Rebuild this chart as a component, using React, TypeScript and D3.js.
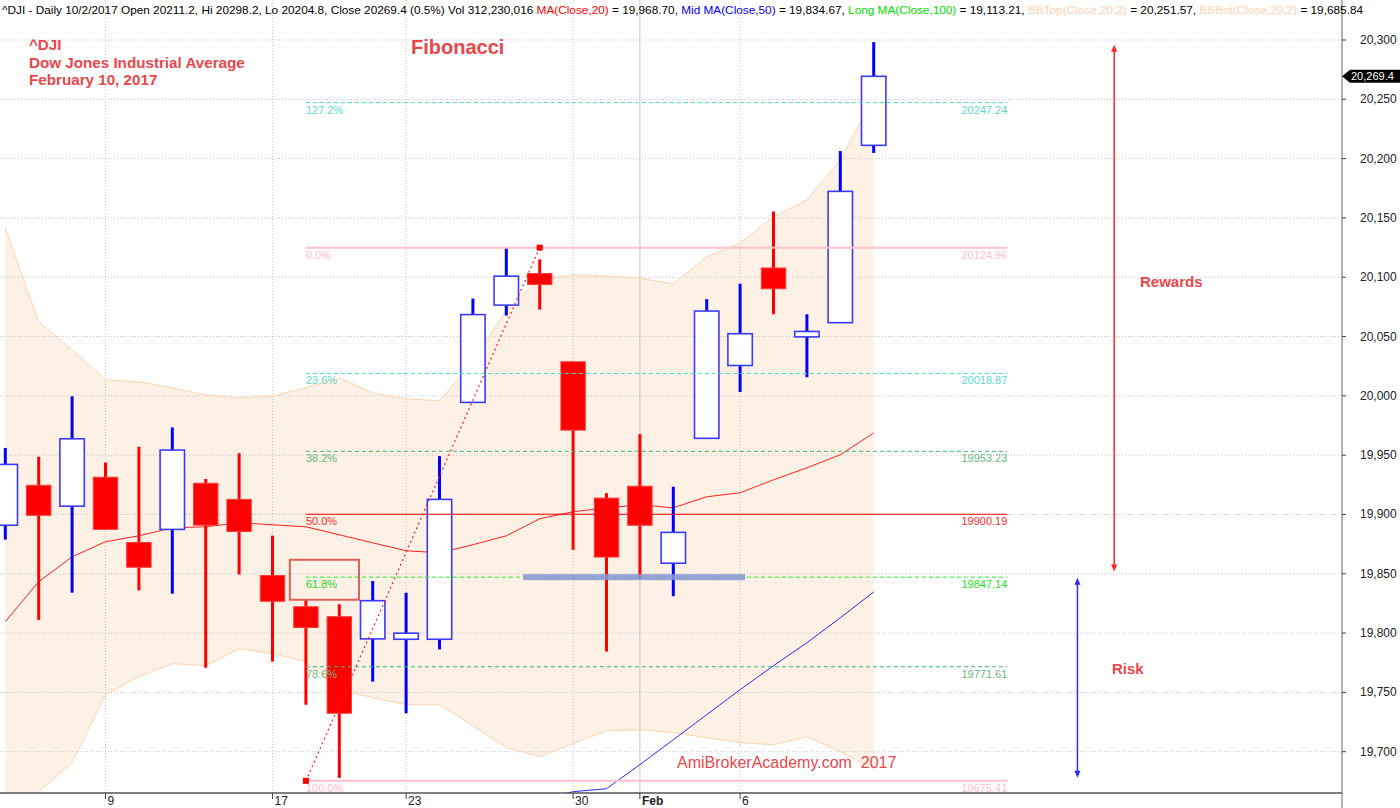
import React from 'react';
import * as d3 from 'd3';

// ---------- data ----------
const dates = ["Jan 4","Jan 5","Jan 6","Jan 9","Jan 10","Jan 11","Jan 12","Jan 13","Jan 17","Jan 18","Jan 19","Jan 20","Jan 23","Jan 24","Jan 25","Jan 26","Jan 27","Jan 30","Jan 31","Feb 1","Feb 2","Feb 3","Feb 6","Feb 7","Feb 8","Feb 9","Feb 10"];
const opens = [19890.9,19924.6,19907.0,19931.4,19876.4,19887.4,19926.3,19912.7,19848.5,19822.2,19813.8,19795.1,19794.8,19794.8,19994.5,20076.5,20103.1,20028.7,19913.8,19923.8,19858.9,19964.2,20025.6,20107.8,20049.7,20061.7,20211.2];
const highs = [19956.1,19948.6,19999.6,19943.8,19957.1,19973.4,19929.9,19951.6,19882.1,19828.0,19824.3,19843.9,19834.0,19949.2,20082.0,20125.6,20115.0,20028.7,19918.0,19967.7,19923.4,20081.5,20094.5,20155.4,20068.8,20206.4,20298.2];
const lows = [19878.8,19811.1,19834.1,19887.4,19836.0,19833.2,19770.8,19849.4,19775.9,19739.6,19677.9,19759.1,19732.4,19786.2,19994.5,20067.7,20072.7,19870.2,19784.4,19845.7,19831.1,19964.2,20003.3,20068.8,20015.7,20061.7,20204.8];
const closes = [19942.2,19899.3,19963.8,19887.4,19855.5,19954.3,19891.0,19885.7,19826.8,19804.7,19732.4,19827.3,19799.9,19912.7,20068.5,20100.9,20093.8,19971.1,19864.1,19890.9,19884.9,20071.5,20052.4,20090.3,20054.3,20172.4,20269.4];

const bbTop = [20141.6,20062.4,20038.8,20013.5,20011.8,20006.8,20000.8,19998.3,19999.9,20006.8,20015.2,20002.5,19997.5,19995.8,20028.7,20072.5,20097.8,20102.0,20101.1,20099.4,20094.4,20117.1,20128.9,20150.8,20165.2,20198.9,20251.6];
const bbBot = [19634.3,19666.3,19690.7,19748.0,19763.2,19774.2,19772.5,19786.8,19782.6,19775.9,19752.3,19745.5,19739.6,19739.6,19721.9,19703.4,19695.8,19706.8,19717.6,19718.5,19716.0,19711.8,19707.6,19705.9,19712.6,19700.0,19685.8];
const ma20 = [19809.6,19843.3,19864.3,19877.0,19882.0,19888.8,19889.6,19893.0,19891.3,19889.6,19882.9,19876.1,19869.4,19867.7,19874.5,19882.0,19896.4,19902.3,19905.6,19908.1,19905.6,19914.9,19918.3,19929.2,19939.3,19950.3,19968.7];
const ma50: (number | null)[] = [null,null,null,null,null,null,null,null,null,null,null,null,null,null,null,19640.0,19659.6,19666.3,19668.8,19689.1,19710.1,19731.2,19752.3,19772.5,19791.9,19812.9,19834.7];

const yTicks = [19700,19750,19800,19850,19900,19950,20000,20050,20100,20150,20200,20250,20300];
const xTickIdx = [3,8,12,17,19,22];
const xTickLabels = ["9","17","23","30","Feb","6"];

const fibPct = ["127.2%","0.0%","23.6%","38.2%","50.0%","61.8%","78.6%","100.0%"];
const fibVals = [20247.24,20124.96,20018.87,19953.23,19900.19,19847.14,19771.61,19675.41];
const fibStartIdx = 9;
const fibEndIdx = 30;
const fibTrend = [{ i: 9, v: 19675.41 }, { i: 16, v: 20124.96 }];

// ---------- layout ----------
const W = 1400, H = 808;
const AXIS_X = 1342, AXIS_Y = 793;
const x = d3.scaleLinear().domain([0, 40]).range([5.3, 5.3 + 40 * 33.4]);
const y = d3.scaleLinear().domain([19700, 20300]).range([751.7, 40]);
const FONT = "'Liberation Sans', Arial, sans-serif";

const fibStyle = [
  { stroke: '#40e0d0', dash: '4,3', w: 1, label: '#5cd8cb' },
  { stroke: '#ffc0cb', dash: null, w: 2, label: '#ffc0cb' },
  { stroke: '#40e0d0', dash: '4,3', w: 1, label: '#5cd8cb' },
  { stroke: '#3cb371', dash: '4,3', w: 1, label: '#6cb884' },
  { stroke: '#ff0000', dash: null, w: 1, label: '#ff2a2a' },
  { stroke: '#22ee22', dash: '4,3', w: 1, label: '#22dd22' },
  { stroke: '#3cb371', dash: '4,3', w: 1, label: '#6cb884' },
  { stroke: '#ffc0cb', dash: null, w: 2, label: '#ffc0cb' },
];

export default function App() {
  React.useEffect(() => { document.body.style.margin = '0'; }, []);
  const idx = d3.range(dates.length);

  const area = d3.area<number>()
    .x(i => x(i)).y0(i => y(bbBot[i])).y1(i => y(bbTop[i]));
  const topLine = d3.line<number>().x(i => x(i)).y(i => y(bbTop[i]));
  const botLine = d3.line<number>().x(i => x(i)).y(i => y(bbBot[i]));
  const ma20Line = d3.line<number>().x(i => x(i)).y(i => y(ma20[i]));
  const ma50Line = d3.line<number>().defined(i => ma50[i] != null).x(i => x(i)).y(i => y(ma50[i] as number));

  const bw = 24.4;
  const last = closes[closes.length - 1];
  const tagY = y(last);

  const arrow = (xx: number, y1: number, y2: number, color: string) => (
    <g>
      <line x1={xx} x2={xx} y1={y1 + 4} y2={y2 - 4} stroke={color} strokeWidth={1.5} />
      <polygon points={`${xx},${y1} ${xx - 3},${y1 + 7} ${xx + 3},${y1 + 7}`} fill={color} />
      <polygon points={`${xx},${y2} ${xx - 3},${y2 - 7} ${xx + 3},${y2 - 7}`} fill={color} />
    </g>
  );

  return (
    <svg width={W} height={H} style={{ position: 'absolute', left: 0, top: 0, display: 'block', background: '#fff' }} fontFamily={FONT}>
      <defs>
        <clipPath id="plot"><rect x={0} y={0} width={AXIS_X} height={AXIS_Y} /></clipPath>
      </defs>
      <g clipPath="url(#plot)">
        <path d={area(idx) || ''} fill="#fdf0e4" />
        {yTicks.map(t => (
          <line key={t} x1={0} x2={AXIS_X} y1={y(t)} y2={y(t)} stroke="#c4c4c4" strokeDasharray="1,2" />
        ))}
        {xTickIdx.map((t, k) => (
          <line key={t} x1={x(t)} x2={x(t)} y1={0} y2={AXIS_Y} stroke="#c4c4c4" strokeDasharray={xTickLabels[k] === 'Feb' ? undefined : '1,2'} />
        ))}
        <path d={topLine(idx) || ''} fill="none" stroke="#fcd6b0" strokeWidth={1} />
        <path d={botLine(idx) || ''} fill="none" stroke="#fcd6b0" strokeWidth={1} />
        <path d={ma20Line(idx) || ''} fill="none" stroke="#ff2020" strokeWidth={1} />
        <path d={ma50Line(idx) || ''} fill="none" stroke="#2a2aff" strokeWidth={1} />
        {idx.map(i => {
          const up = closes[i] >= opens[i];
          const col = up ? '#0000ff' : '#ff0000';
          const top = y(Math.max(opens[i], closes[i]));
          const bot = y(Math.min(opens[i], closes[i]));
          return (
            <g key={dates[i]}>
              <line x1={x(i)} x2={x(i)} y1={y(highs[i])} y2={y(lows[i])} stroke={col} strokeWidth={3} />
              <rect x={x(i) - bw / 2} y={top} width={bw} height={Math.max(bot - top, 1.5)}
                fill={up ? '#ffffff' : '#ff0000'} stroke={up ? '#3b3bff' : '#ff3a3a'} strokeWidth={up ? 1.6 : 1} />
            </g>
          );
        })}
        {fibVals.map((v, k) => {
          const s = fibStyle[k];
          return (
            <g key={fibPct[k]}>
              <line x1={x(fibStartIdx)} x2={x(fibEndIdx)} y1={y(v)} y2={y(v)} stroke={s.stroke} strokeWidth={s.w} strokeDasharray={s.dash || undefined} />
              <text x={x(fibStartIdx)} y={y(v) + 11} fontSize={11} fill={s.label}>{fibPct[k]}</text>
              <text x={x(fibEndIdx)} y={y(v) + 11} fontSize={11} fill={s.label} textAnchor="end">{v.toFixed(2)}</text>
            </g>
          );
        })}
        <rect x={x(8.52)} y={y(19861.8)} width={x(10.59) - x(8.52)} height={y(19828.1) - y(19861.8)} fill="none" stroke="#e0605c" strokeWidth={2} />
        <rect x={x(15.5)} y={y(19847.14) - 3} width={x(22.15) - x(15.5)} height={6} fill="#8696d6" opacity={0.85} />
        <line x1={x(fibTrend[0].i)} y1={y(fibTrend[0].v)} x2={x(fibTrend[1].i)} y2={y(fibTrend[1].v)} stroke="#ff2020" strokeWidth={1.2} strokeDasharray="2,3" />
        {fibTrend.map(p => (
          <rect key={p.i} x={x(p.i) - 3} y={y(p.v) - 3} width={6} height={6} fill="#ff0000" />
        ))}
        {arrow(x(33.2), y(20296), y(19852), '#ff2020')}
        {arrow(x(32.1), y(19846.6), y(19678), '#2a2aff')}
      </g>

      <line x1={0} x2={AXIS_X} y1={AXIS_Y} y2={AXIS_Y} stroke="#555" strokeWidth={1.5} />
      <line x1={AXIS_X} x2={AXIS_X} y1={0} y2={H} stroke="#666" strokeWidth={1} />
      {yTicks.map(t => (
        <g key={t}>
          <line x1={AXIS_X} x2={AXIS_X + 4} y1={y(t)} y2={y(t)} stroke="#444" />
          <text x={1360} y={y(t) + 4} fontSize={12} fill="#222">{d3.format(',')(t)}</text>
        </g>
      ))}
      {xTickIdx.map((t, k) => (
        <g key={t}>
          <line x1={x(t)} x2={x(t)} y1={AXIS_Y} y2={AXIS_Y + 6} stroke="#444" />
          <text x={x(t) + 2} y={805} fontSize={12} fill="#222" fontWeight={xTickLabels[k] === 'Feb' ? 'bold' : 'normal'}>{xTickLabels[k]}</text>
        </g>
      ))}
      <polygon points={`${AXIS_X},${tagY} ${AXIS_X + 8},${tagY - 6.5} ${W},${tagY - 6.5} ${W},${tagY + 6.5} ${AXIS_X + 8},${tagY + 6.5}`} fill="#000" />
      <text x={1351} y={tagY + 4} fontSize={11} fill="#fff">{d3.format(',.1f')(last)}</text>

      <text x={2} y={14} fontSize={11.8} fill="#000">
        <tspan>^DJI - Daily 10/2/2017 Open 20211.2, Hi 20298.2, Lo 20204.8, Close 20269.4 (0.5%) Vol 312,230,016 </tspan>
        <tspan fill="#ff0000">MA(Close,20)</tspan>
        <tspan> = 19,968.70, </tspan>
        <tspan fill="#0000ff">Mid MA(Close,50)</tspan>
        <tspan> = 19,834.67, </tspan>
        <tspan fill="#00dd00">Long MA(Close,100)</tspan>
        <tspan> = 19,113.21, </tspan>
        <tspan fill="#ffd3b0">BBTop(Close,20,2)</tspan>
        <tspan> = 20,251.57, </tspan>
        <tspan fill="#ffd3b0">BBBot(Close,20,2)</tspan>
        <tspan> = 19,685.84</tspan>
      </text>
      <g fill="#e8474c" fontWeight="bold" fontSize={15.2}>
        <text x={29} y={50}>^DJI</text>
        <text x={29} y={67.5}>Dow Jones Industrial Average</text>
        <text x={29} y={85}>February 10, 2017</text>
      </g>
      <text x={411} y={54} fontSize={20} fontWeight="bold" fill="#e8474c">Fibonacci</text>
      <text x={1140} y={287} fontSize={15} fontWeight="bold" fill="#e8474c">Rewards</text>
      <text x={1112} y={674} fontSize={15} fontWeight="bold" fill="#e8474c">Risk</text>
      <text x={677} y={768} fontSize={16} fill="#e8474c">{'AmiBrokerAcademy.com\u00A0\u00A02017'}</text>
    </svg>
  );
}
